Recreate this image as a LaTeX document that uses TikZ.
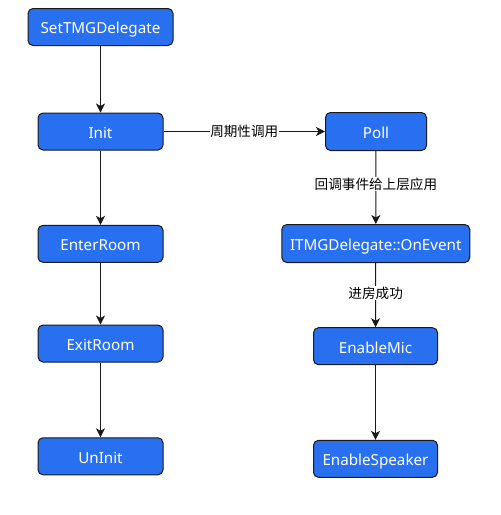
\documentclass[tikz,border=0pt]{standalone}
\usepackage{fontspec}
\setmainfont{Noto Sans}
\newfontfamily\cjkfont{Noto Sans CJK SC}
\usetikzlibrary{arrows.meta}
\definecolor{boxblue}{RGB}{41,112,240}
\definecolor{edgeline}{RGB}{25,25,25}
\tikzset{
  box/.style={draw=edgeline, line width=1pt, fill=boxblue, rounded corners=5pt,
    text=white, font=\fontsize{15.2}{17}\selectfont, inner sep=0pt, anchor=center,
    text height=13.9pt, text depth=0pt},
  conn/.style={draw=edgeline, line width=1pt, -{Stealth[length=9pt,width=9pt,inset=2.5pt]}},
  lbl/.style={fill=white, text=black, font=\cjkfont\fontsize{13.6}{15}\selectfont, inner sep=0.5pt}
}
\begin{document}
\begin{tikzpicture}[x=1pt,y=-1pt]
\useasboundingbox (0,0) rectangle (501,515);
\node[box, minimum width=145pt, minimum height=37pt] (set) at (100.5,27) {SetTMGDelegate};
\node[box, minimum width=125pt, minimum height=37pt] (init) at (100.5,131.5) {Init};
\node[box, minimum width=101pt, minimum height=38pt] (poll) at (376,131.5) {Poll};
\node[box, minimum width=125pt, minimum height=37pt] (enter) at (100.5,243.8) {EnterRoom};
\node[box, minimum width=125pt, minimum height=37pt] (exit) at (100.5,343.5) {ExitRoom};
\node[box, minimum width=125pt, minimum height=37pt] (uninit) at (100.5,456.3) {UnInit};
\node[box, minimum width=188pt, minimum height=38pt] (onevent) at (375.8,243.5) {ITMGDelegate::OnEvent};
\node[box, minimum width=124pt, minimum height=37pt] (mic) at (375.5,346.2) {EnableMic};
\node[box, minimum width=124pt, minimum height=37pt] (spk) at (375.5,458.8) {EnableSpeaker};
\draw[conn] (set) -- (init);
\draw[conn] (init) -- (enter);
\draw[conn] (enter) -- (exit);
\draw[conn] (exit) -- (uninit);
\draw[conn] (init) -- node[lbl] {周期性调用} (poll);
\draw[conn] (poll) -- node[lbl, pos=0.45] {回调事件给上层应用} (onevent);
\draw[conn] (onevent) -- node[lbl, pos=0.47] {进房成功} (mic);
\draw[conn] (mic) -- (spk);
\end{tikzpicture}
\end{document}
